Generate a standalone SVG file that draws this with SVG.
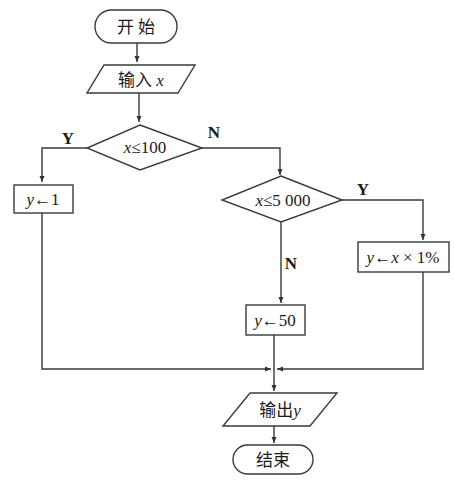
<svg xmlns="http://www.w3.org/2000/svg" width="454" height="480" viewBox="0 0 454 480">
<style>
.s{fill:#fff;stroke:#3a3a3a;stroke-width:1.4}
.c{fill:none;stroke:#3a3a3a;stroke-width:1.4}
.t{font-family:"Liberation Serif","Noto Sans CJK SC",serif;font-size:17px;fill:#1a1a1a;text-anchor:middle;dominant-baseline:central}
.l{font-family:"Liberation Serif",serif;font-size:17px;font-weight:bold;fill:#1a1a1a;text-anchor:middle;dominant-baseline:central}
.i{font-style:italic}
</style>
<defs>
<marker id="a" viewBox="0 0 6 6" refX="6" refY="3" markerWidth="6" markerHeight="6" markerUnits="userSpaceOnUse" orient="auto">
<path d="M0,0.5 L6,3 L0,5.5 Z" fill="#333"/>
</marker>
</defs>
<rect width="454" height="480" fill="#fff"/>
<g id="connectors">
<line class="c" x1="137" y1="43" x2="137" y2="62" marker-end="url(#a)"/>
<line class="c" x1="139" y1="93" x2="139" y2="122" marker-end="url(#a)"/>
<polyline class="c" points="87,148 42,148 42,182" marker-end="url(#a)"/>
<polyline class="c" points="202,148 280,148 280,175" marker-end="url(#a)"/>
<polyline class="c" points="342,200 423,200 423,240" marker-end="url(#a)"/>
<line class="c" x1="281" y1="222" x2="281" y2="303" marker-end="url(#a)"/>
<polyline class="c" points="42,212 42,369 271,369" marker-end="url(#a)"/>
<polyline class="c" points="423,272 423,369 277,369" marker-end="url(#a)"/>
<line class="c" x1="274" y1="335" x2="274" y2="391" marker-end="url(#a)"/>
<line class="c" x1="274" y1="426" x2="274" y2="443" marker-end="url(#a)"/>
</g>
<g id="start">
<rect class="s" x="95" y="10" width="82" height="33" rx="16.5"/>
<text class="t" x="136" y="27" font-size="18">开 始</text>
</g>
<g id="input">
<polygon class="s" points="104,65 195,65 178,93 87,93"/>
<text class="t" x="141" y="80">输入 <tspan class="i">x</tspan></text>
</g>
<g id="cond1">
<polygon class="s" points="140,125 202,148 140,170 87,148"/>
<text class="t" x="145" y="147"><tspan class="i">x</tspan>≤100</text>
<text class="l" x="68" y="138">Y</text>
<text class="l" x="214" y="132">N</text>
</g>
<g id="y1">
<rect class="s" x="14" y="185" width="59" height="28"/>
<text class="t" x="43" y="199"><tspan class="i">y</tspan>←1</text>
</g>
<g id="cond2">
<polygon class="s" points="281,176 342,200 281,222 222,200"/>
<text class="t" x="283" y="200"><tspan class="i">x</tspan>≤5 000</text>
<text class="l" x="363" y="189">Y</text>
<text class="l" x="291" y="263">N</text>
</g>
<g id="y2">
<rect class="s" x="358" y="242" width="91" height="30"/>
<text class="t" x="403" y="257"><tspan class="i">y</tspan>←<tspan class="i">x</tspan> × 1%</text>
</g>
<g id="y3">
<rect class="s" x="246" y="305" width="59" height="30"/>
<text class="t" x="275" y="320"><tspan class="i">y</tspan>←50</text>
</g>
<g id="output">
<polygon class="s" points="250,393 337,393 310,426 223,426"/>
<text class="t" x="280" y="410">输出<tspan class="i">y</tspan></text>
</g>
<g id="end">
<rect class="s" x="233" y="445" width="80" height="29" rx="14.5"/>
<text class="t" x="273" y="460">结束</text>
</g>
</svg>
